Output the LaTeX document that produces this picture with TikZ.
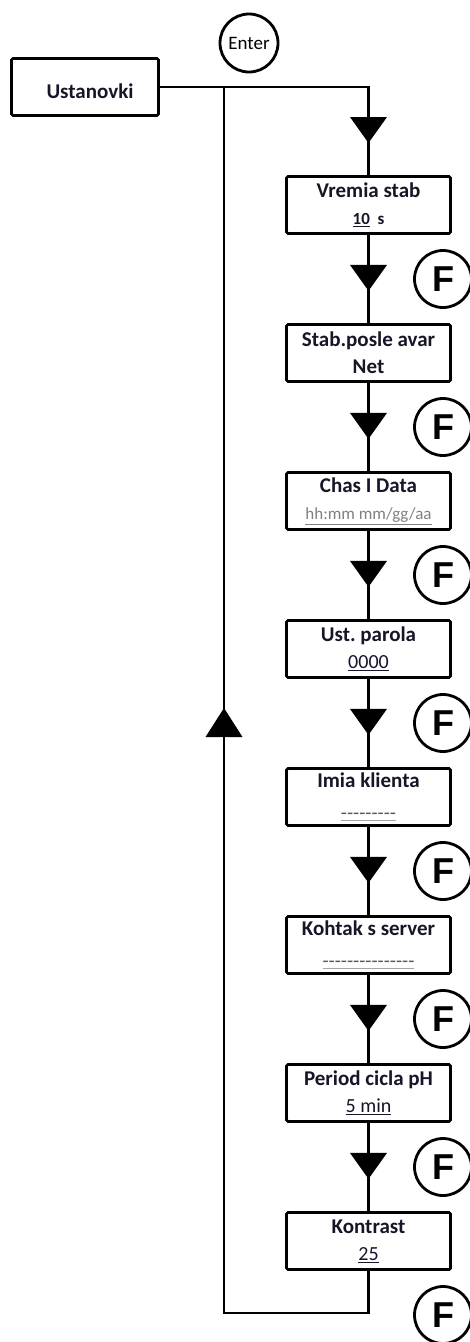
\documentclass[tikz,border=0pt]{standalone}
\usepackage{fontspec}
\usetikzlibrary{calc}
\newfontfamily\calfont{Carlito}
\newfontfamily\keyfont{Liberation Sans}
\definecolor{ink}{RGB}{22,22,40}
\frenchspacing
% second-line styles inside the menu boxes
\newcommand\valfont{\mdseries\fontsize{20}{24}\selectfont}
\newcommand\boldval{\fontsize{17}{20}\selectfont}
\newcommand\blankfield[1]{{\color{gray!70}\underline{\raisebox{-4.5pt}{\color{black!65}\valfont #1}}}}
\begin{document}
\begin{tikzpicture}[x=1pt,y=-1pt,
  conn/.style={line width=2.8pt, line join=miter},
  menubox/.style={draw, line width=2.8pt, rounded corners=1.5pt,
    minimum width=164pt, minimum height=57pt, inner sep=0pt, align=center,
    text=ink, font=\calfont\bfseries\fontsize{21}{27}\selectfont,
    execute at begin node=\rule{0pt}{24pt}},
  fkey/.style={draw, circle, line width=2.8pt, minimum size=57pt, inner sep=0pt,
    font=\keyfont\bfseries\fontsize{36}{36}\selectfont},
  enterkey/.style={draw, circle, line width=2.8pt, minimum size=58pt, inner sep=0pt,
    font=\calfont\fontsize{19}{19}\selectfont},
  downtri/.pic={\fill (-18.5,0) -- (18.5,0) -- (0,26) -- cycle;},
  uptri/.pic={\fill (-18.5,0) -- (18.5,0) -- (0,-29) -- cycle;},
]
\fill[white] (0,0) rectangle (470,1342);
\useasboundingbox (0,0) rectangle (470,1342);

% entry point
\node[enterkey] (enter) at (249,43) {Enter};
\node[menubox, minimum width=147pt, execute at begin node={}] (ust) at (85,87) {\hspace{10pt}Ustanovki};

% menu items
\node[menubox] (b1) at (368.5,205) {Vremia stab\\{\boldval\underline{10}\ \ s}};
\node[menubox] (b2) at (368.5,353) {Stab.posle avar\\Net};
\node[menubox] (b3) at (368.5,501) {Chas I Data\\{\mdseries\fontsize{17}{20}\selectfont\color{gray}\underline{hh:mm mm/gg/aa}}};
\node[menubox] (b4) at (368.5,649) {Ust. parola\\{\valfont\underline{0000}}};
\node[menubox] (b5) at (368.5,797) {Imia klienta\\\blankfield{-{}-{}-{}-{}-{}-{}-{}-{}-}};
\node[menubox] (b6) at (368.5,945) {Kohtak s server\\\blankfield{-{}-{}-{}-{}-{}-{}-{}-{}-{}-{}-{}-{}-{}-{}-}};
\node[menubox] (b7) at (368.5,1093) {Period cicla pH\\{\valfont\underline{5 min}}};
\node[menubox] (b8) at (368.5,1241) {Kontrast\\{\valfont\underline{25}}};

% F key beside each step
\foreach \i in {1,...,8}
  \node[fkey] (f\i) at ($(b\i.center)+(74.5,74)$) {F};

% routing points
\coordinate (corner) at (368.5,87);
\coordinate (join) at (224,87);
\coordinate (rb) at (368.5,1313);
\coordinate (lb) at (224,1313);

% connectors
\draw[conn] (ust.east) -- (corner) -- (b1.north);
\pic at ($(corner)+(0,30)$) {downtri};
\foreach \a/\b in {b1/b2,b2/b3,b3/b4,b4/b5,b5/b6,b6/b7,b7/b8} {
  \draw[conn] (\a.south) -- (\b.north);
  \pic at ($(\a.south)+(0,30)$) {downtri};
}
% return loop
\draw[conn] (b8.south) -- (rb) -- (lb) -- (join);
\pic at (224,737) {uptri};
\end{tikzpicture}
\end{document}
